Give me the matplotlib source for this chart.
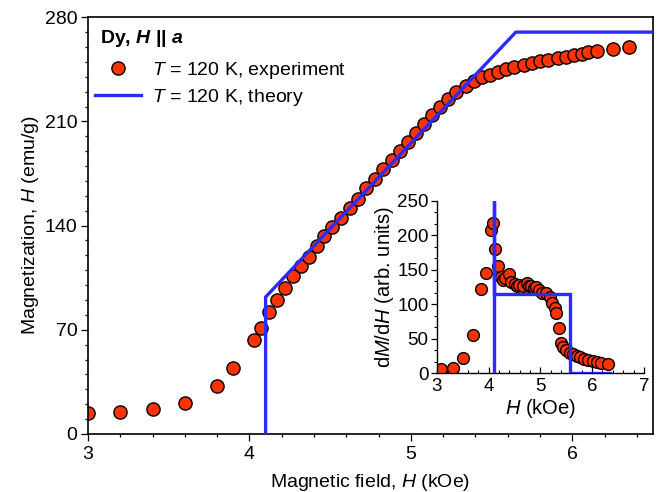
import numpy as np
import matplotlib
matplotlib.use("Agg")
import matplotlib.pyplot as plt

plt.rcParams['font.family'] = ['Liberation Sans', 'DejaVu Sans']
plt.rcParams['mathtext.fontset'] = 'custom'
plt.rcParams['mathtext.rm'] = 'Liberation Sans'
plt.rcParams['mathtext.it'] = 'Liberation Sans:italic'
plt.rcParams['mathtext.bf'] = 'Liberation Sans:bold'
plt.rcParams['mathtext.bfit'] = 'Liberation Sans:bold:italic'

# magnetization vs field, T = 120 K
exp_H = [3.0, 3.2, 3.4, 3.6, 3.8, 3.9, 4.03, 4.07, 4.12, 4.17, 4.22, 4.27,
         4.32, 4.37, 4.42, 4.46, 4.51, 4.57, 4.62, 4.67, 4.72, 4.78, 4.83,
         4.88, 4.93, 4.98, 5.03, 5.08, 5.13, 5.18, 5.23, 5.28, 5.34, 5.39,
         5.44, 5.49, 5.54, 5.59, 5.64, 5.70, 5.75, 5.80, 5.85, 5.91, 5.96,
         6.01, 6.06, 6.10, 6.15, 6.25, 6.35]
exp_M = [14, 15, 17, 21, 32, 44, 63, 71, 82, 90, 98, 106,
         113, 119, 126, 133, 139, 145, 152, 158, 165, 171, 178,
         184, 190, 196, 202, 208, 214, 220, 225, 230, 234, 237,
         239.5, 241.5, 243, 245, 246.5, 248, 249.5, 250.5, 251.5, 252.5, 253.5,
         254.5, 255.5, 256.5, 257, 258.5, 260]

theory_H = [4.1, 4.1, 5.65, 6.5]
theory_M = [0, 92, 270, 270]

# derivative dM/dH
dexp_H = [3.08, 3.31, 3.50, 3.70, 3.86, 3.95, 4.04, 4.08, 4.13, 4.18, 4.23,
          4.28, 4.32, 4.39, 4.44, 4.50, 4.55, 4.59, 4.66, 4.74, 4.78, 4.82,
          4.87, 4.92, 4.97, 5.04, 5.11, 5.18, 5.23, 5.28, 5.31, 5.36, 5.39,
          5.44, 5.50, 5.57, 5.63, 5.70, 5.76, 5.84, 5.92, 6.02, 6.09, 6.18, 6.31]
dexp_M = [5.8, 7.2, 21.7, 55.5, 121.7, 146, 207.6, 218, 179.6, 155.4, 140,
          135, 137.6, 143.4, 132.8, 129.4, 127, 128, 126.5, 130.4, 127, 126.5,
          124, 125.5, 120.7, 116.8, 115.9, 111, 102.4, 95.1, 86.9, 66.1, 43.5,
          38.6, 33.8, 29.9, 28, 25.1, 23.2, 20.3, 19.3, 17.9, 16.9, 15.4, 13.5]

dtheory_H = [4.1, 4.1, 4.1, 5.58, 5.58, 6.35]
dtheory_M = [0, 250, 115, 115, 0, 0]

red = '#ff3300'
blue = '#2b2bff'
fs = 14

fig = plt.figure(figsize=(6.57, 4.92), dpi=100)
ax = fig.add_axes([0.134, 0.118, 0.860, 0.847])

ax.plot(exp_H, exp_M, 'o', ms=9.5, mfc=red, mec='black', mew=1.0,
        label='$T$ = 120 K, experiment', zorder=2)
ax.plot(theory_H, theory_M, '-', color=blue, lw=2.4,
        label='$T$ = 120 K, theory', zorder=3)

ax.set_xlim(3, 6.5)
ax.set_ylim(0, 280)
ax.set_xticks([3, 4, 5, 6])
ax.set_xticks(np.arange(3, 6.51, 0.2), minor=True)
ax.set_yticks([0, 70, 140, 210, 280])
ax.set_yticks(np.arange(0, 281, 10), minor=True)
ax.tick_params(which='both', direction='out', width=0.9, labelsize=fs,
               top=False, right=False, pad=2.5)
ax.tick_params(axis='x', pad=4)
ax.tick_params(which='major', length=5)
ax.tick_params(which='minor', length=2.5)
for s in ax.spines.values():
    s.set_linewidth(1.2)
ax.set_xlabel('Magnetic field, $H$ (kOe)', fontsize=fs, labelpad=6)
ax.set_ylabel('Magnetization, $H$ (emu/g)', fontsize=fs, labelpad=3)

ax.text(0.021, 0.948, r'Dy, $\mathbfit{H}$ || $\mathbfit{a}$', transform=ax.transAxes,
        fontsize=fs, fontweight='bold', va='center', ha='left')
ax.legend(loc='upper left', bbox_to_anchor=(0.012, 0.897), frameon=False,
          fontsize=fs, handlelength=2.4, handletextpad=0.55,
          labelspacing=0.28, borderpad=0, borderaxespad=0)

# inset
ins = fig.add_axes([0.665, 0.241, 0.315, 0.351])
ins.plot(dexp_H, dexp_M, 'o', ms=8.5, mfc=red, mec='black', mew=1.0, zorder=2)
ins.plot(dtheory_H, dtheory_M, '-', color=blue, lw=2.4, zorder=3,
         solid_joinstyle='miter')
ins.set_xlim(3, 7)
ins.set_ylim(0, 250)
ins.set_xticks([3, 4, 5, 6, 7])
ins.set_xticks(np.arange(3, 7.01, 0.2), minor=True)
ins.set_yticks([0, 50, 100, 150, 200, 250])
ins.set_yticks(np.arange(0, 251, 50 / 3), minor=True)
ins.spines['top'].set_visible(False)
ins.spines['right'].set_visible(False)
for s in ('left', 'bottom'):
    ins.spines[s].set_linewidth(1.0)
ins.patch.set_alpha(0)
ins.tick_params(axis='x', which='both', direction='in', labelsize=13.5, pad=3)
ins.tick_params(axis='y', which='both', direction='out', labelsize=13.5, pad=2)
ins.tick_params(which='major', length=4, width=0.9)
ins.tick_params(which='minor', length=2.5, width=0.8)
ins.set_xlabel('$H$ (kOe)', fontsize=14.5, labelpad=2)
ins.set_ylabel('d$M$/d$H$ (arb. units)', fontsize=14.5, labelpad=1)

fig.savefig('out.png', dpi=100)
